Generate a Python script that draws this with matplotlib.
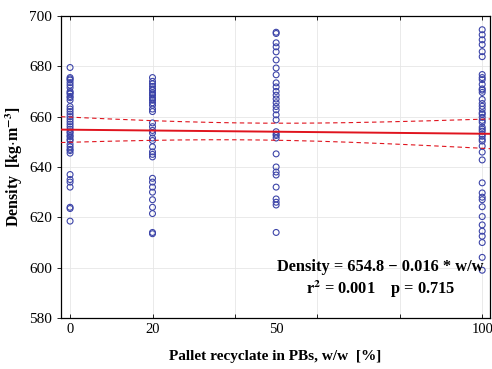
import numpy as np
import matplotlib.pyplot as plt
from matplotlib.transforms import blended_transform_factory

# recycled pallet content (% w/w) and measured densities (kg/m3)
dens_0 = [679.5, 675.5, 675, 674.5, 673.5, 672.5, 671.5, 670, 669.5, 669, 668, 667.5,
          666.5, 664, 663, 662, 661, 660, 659, 658, 657, 656, 655, 654, 653.5, 652.5,
          652, 651, 650.5, 649, 648, 647, 646.5, 645.5,
          637, 635, 634, 632, 624, 623.5, 618.5]
dens_20 = [675.5, 674, 673, 672, 671, 670.5, 669.5, 669, 668.5, 667.5, 667, 666.5,
           665.5, 664.5, 663, 662, 657.5, 656, 654.5, 653.5, 651.5, 650.5, 648, 646,
           645, 644, 635.5, 634, 632, 630, 627, 624, 621.5, 614, 613.5]
dens_50 = [693.5, 693, 689.3, 687.7, 685.7, 682.5, 679.3, 676.6, 673.4, 671.8, 670, 668.5,
           667, 665.5, 664, 662.7, 660.7, 658.7, 654, 653, 652.5, 651.5,
           645.2, 640, 638, 636.8, 632, 627.3, 626, 624.9, 614]
dens_100 = [694.5, 692.5, 690.5, 688.6, 685.8, 683.8, 676.7, 675.5, 674.7, 672.8, 671,
            670.5, 669.6, 666.8, 665.2, 664.1, 662.9, 661.5, 660.9, 659.7, 658.5, 657.7,
            655.8, 655, 654.2, 653, 652.2, 651, 650.3, 648.3, 645.9, 642.8, 633.7, 629.7,
            628, 627, 624.2, 620.3, 617, 614.5, 612.5, 610, 604.1, 599]

groups = [0, 20, 50, 100]
dens = [dens_0, dens_20, dens_50, dens_100]

# fitted model as printed on the chart
fit_icpt = 654.8
fit_slope = -0.016

x = np.concatenate([np.full(len(d), g, dtype=float) for g, d in zip(groups, dens)])
y = np.concatenate([np.array(d, dtype=float) for d in dens])

# 95% confidence band of the mean
n = len(x)
resid = y - (fit_icpt + fit_slope * x)
s = np.sqrt(np.sum(resid ** 2) / (n - 2))
sxx = np.sum((x - x.mean()) ** 2)
xf = np.linspace(-2.2, 101.9, 200)
yf = fit_icpt + fit_slope * xf
half = 1.98 * s * np.sqrt(1.0 / n + (xf - x.mean()) ** 2 / sxx)

plt.rcParams['font.family'] = ['Liberation Serif', 'DejaVu Serif']
plt.rcParams['mathtext.fontset'] = 'stix'

fig = plt.figure(figsize=(4.92, 3.69), dpi=100)
ax = fig.add_axes([0.124, 0.138, 0.872, 0.819])

ax.scatter(x, y, s=18, facecolors='none', edgecolors='#3c44a8', linewidths=0.8, zorder=3)
ax.plot(xf, yf, color='#e0141e', lw=1.4, zorder=4)
ax.plot(xf, yf + half, color='#e0141e', lw=0.8, ls=(0, (4, 3)), zorder=4)
ax.plot(xf, yf - half, color='#e0141e', lw=0.8, ls=(0, (4, 3)), zorder=4)

ax.set_xlim(-2.2, 101.9)
ax.set_ylim(580, 700)
ax.set_yticks(np.arange(580, 701, 20))
ax.set_xticks([0, 20, 40, 60, 80, 100])
ax.set_xticklabels(['0', '20', '', '', '', '100'])
tr = blended_transform_factory(ax.transData, ax.transAxes)
ax.text(50, -0.015, '50', transform=tr, ha='center', va='top', fontsize=10.5)

ax.grid(True, color='#e6e6e6', lw=0.6)
ax.set_axisbelow(True)
ax.tick_params(axis='both', labelsize=11, length=3, width=0.6, top=True, right=True)
ax.tick_params(axis='x', direction='in', labelsize=10.5)
ax.tick_params(axis='y', direction='out', right=False)
for sp in ax.spines.values():
    sp.set_linewidth(0.9)

ax.set_xlabel('Pallet recyclate in PBs, w/w  [%]', fontsize=11, fontweight='bold', labelpad=10)
ax.set_ylabel(r'Density  [kg$\cdot$m$^{\mathbf{-3}}$]', fontsize=11.5, fontweight='bold', labelpad=3)

ax.text(0.745, 0.17, 'Density = 654.8 \u2212 0.016 * w/w', transform=ax.transAxes,
        ha='center', va='center', fontsize=11.8, fontweight='bold')
ax.text(0.745, 0.095, r'r$^{\mathbf{2}}$ = 0.001    p = 0.715', transform=ax.transAxes,
        ha='center', va='center', fontsize=11.8, fontweight='bold')

fig.savefig('out.png', dpi=100)
